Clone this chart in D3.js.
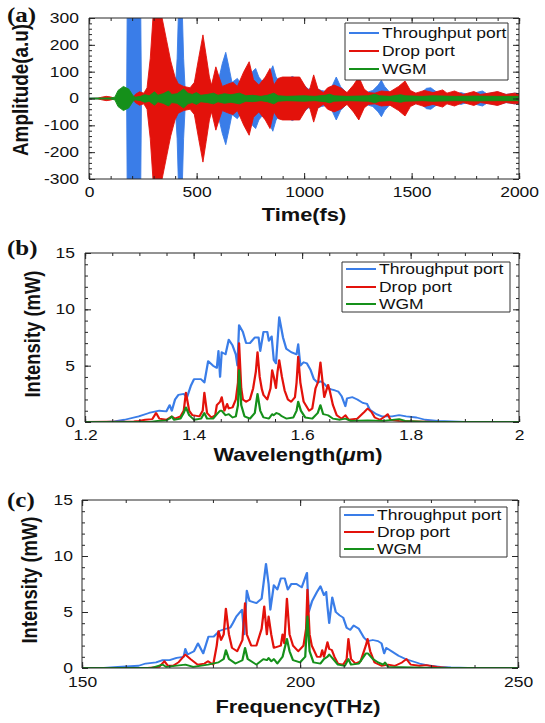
<!DOCTYPE html>
<html>
<head>
<meta charset="utf-8">
<script src="https://cdn.jsdelivr.net/npm/d3@7"></script>
<style>
body { margin: 0; background: #fff; }
svg text { font-family: "Liberation Sans", Arial, sans-serif; }
</style>
</head>
<body>
<svg id="fig" width="545" height="723"></svg>
<script>
// ---- data ----

const seriesNames = ['Throughput port', 'Drop port', 'WGM'];
const seriesColors = ['#3a7de8', '#e3120b', '#15901a'];

// (a) time domain: envelope amplitude of each oscillating signal, [t fs, amplitude]
const timeTicks = [0, 500, 1000, 1500, 2000];
const ampTicks = [-300, -200, -100, 0, 100, 200, 300];

const throughEnv = [[0,1],[170,2],[175,4],[178,380],[240,380],[244,10],[300,15],[400,15],[410,150],[418,380],[432,380],[440,150],[448,20],
  [480,30],[495,70],[505,92],[515,70],[525,40],[560,40],[600,60],[620,130],[636,172],[650,120],[665,60],[690,75],[710,50],[740,60],
  [760,100],[775,112],[790,80],[810,60],[840,95],[855,122],[870,80],[890,60],[920,70],[945,82],[980,70],[1000,50],[1020,35],[1050,40],
  [1080,30],[1110,25],[1130,45],[1150,80],[1170,45],[1200,20],[1230,30],[1250,30],[1280,20],[1320,30],[1345,50],[1360,68],[1375,45],
  [1400,22],[1440,20],[1480,25],[1510,20],[1540,18],[1570,38],[1590,40],[1610,28],[1650,16],[1700,15],[1730,22],[1760,15],[1800,22],
  [1830,28],[1850,18],[1900,24],[1940,15],[1980,20],[2000,18]];

const dropEnv = [[0,0],[40,1],[60,5],[80,8],[100,6],[115,2],[130,1],[205,2],[215,15],[235,25],[255,20],[270,40],[285,150],[300,330],
  [330,350],[340,300],[360,220],[380,140],[400,80],[415,55],[440,45],[470,40],[490,60],[510,150],[530,237],[545,160],[560,80],[570,50],
  [590,118],[605,80],[620,45],[650,55],[670,60],[690,45],[720,100],[745,137],[765,70],[790,50],[820,80],[842,112],[860,50],[880,75],
  [900,80],[980,80],[1010,40],[1025,30],[1045,88],[1065,35],[1090,22],[1110,40],[1140,50],[1170,40],[1200,22],[1230,50],[1255,80],
  [1280,35],[1300,22],[1330,20],[1360,28],[1400,25],[1440,45],[1470,65],[1495,30],[1520,20],[1560,30],[1600,22],[1645,32],[1665,20],
  [1700,28],[1740,15],[1790,26],[1820,15],[1860,20],[1900,26],[1940,15],[1980,20],[2000,18]];

const wgmEnv = [[0,1.5],[100,2],[120,5],[135,30],[160,45],[185,35],[205,10],[215,5],[240,8],[260,14],[280,10],[305,25],[320,12],
  [345,18],[370,28],[385,15],[410,18],[440,35],[460,20],[480,15],[500,22],[520,12],[550,15],[580,20],[600,12],[630,18],[660,14],
  [700,20],[730,10],[760,12],[800,8],[830,12],[860,20],[880,10],[920,8],[1000,10],[1050,8],[1100,12],[1120,16],[1140,10],[1200,8],
  [1300,10],[1330,16],[1350,10],[1400,8],[1450,14],[1470,10],[1550,8],[1600,10],[1700,8],[1800,9],[1900,8],[2000,8]];

// (b) spectrum vs wavelength, [um, mW]
const wlTicks = [1.2, 1.4, 1.6, 1.8, 2];
const intTicks = [0, 5, 10, 15];

const wlThrough = [[1.2,0],[1.24,0.02],[1.254,0.05],[1.273,0.2],[1.299,0.5],[1.318,0.8],[1.337,1.0],[1.35,0.95],[1.356,1.5],[1.36,1.0],
  [1.366,2.0],[1.372,2.4],[1.382,2.5],[1.388,2.2],[1.395,3.2],[1.401,3.8],[1.414,3.8],[1.42,3.5],[1.427,5.4],[1.436,5.0],[1.443,4.8],
  [1.446,6.3],[1.449,4.0],[1.452,6.2],[1.459,6.0],[1.465,7.3],[1.472,6.8],[1.478,6.0],[1.481,5.0],[1.484,8.6],[1.491,8.0],[1.497,7.0],
  [1.504,7.0],[1.513,7.5],[1.52,7.5],[1.523,6.3],[1.529,8.0],[1.536,8.0],[1.539,7.2],[1.544,7.6],[1.548,5.5],[1.552,5.2],[1.558,9.3],
  [1.565,7.5],[1.571,6.5],[1.58,6.2],[1.59,6.0],[1.593,6.9],[1.597,5.0],[1.603,5.3],[1.609,5.2],[1.616,4.6],[1.622,3.8],[1.629,3.5],
  [1.635,3.6],[1.641,3.4],[1.648,3.0],[1.654,2.9],[1.661,2.8],[1.667,2.7],[1.673,2.3],[1.68,1.4],[1.683,2.1],[1.693,2.2],[1.702,2.0],
  [1.712,1.7],[1.72,1.6],[1.725,1.1],[1.737,0.7],[1.747,0.5],[1.766,0.5],[1.779,0.6],[1.792,0.5],[1.811,0.4],[1.827,0.2],[1.85,0.1],
  [1.875,0.05],[1.9,0],[2.0,0]];

const wlDrop = [[1.2,0],[1.29,0.05],[1.299,0.1],[1.311,0.2],[1.324,0.25],[1.331,0.8],[1.337,0.3],[1.35,0.2],[1.36,0.5],[1.366,0.3],
  [1.376,0.5],[1.382,1.0],[1.386,2.6],[1.392,1.0],[1.398,0.6],[1.411,0.5],[1.417,1.0],[1.42,2.6],[1.425,0.8],[1.433,0.4],[1.44,0.6],
  [1.443,1.5],[1.449,1.8],[1.452,2.2],[1.457,1.0],[1.462,1.6],[1.465,1.2],[1.472,1.3],[1.478,2.0],[1.482,3.5],[1.484,7.0],[1.488,3.0],
  [1.491,2.0],[1.497,1.8],[1.504,2.0],[1.51,3.0],[1.515,4.5],[1.518,6.2],[1.522,4.0],[1.526,2.9],[1.529,2.4],[1.536,2.0],[1.542,3.0],
  [1.545,4.6],[1.548,4.0],[1.552,3.0],[1.555,4.5],[1.558,5.5],[1.563,4.0],[1.568,2.8],[1.574,2.0],[1.58,1.8],[1.587,2.2],[1.59,3.5],
  [1.593,5.8],[1.597,3.5],[1.603,1.8],[1.613,1.0],[1.619,1.2],[1.625,3.0],[1.63,3.6],[1.634,5.3],[1.638,3.5],[1.641,2.2],[1.648,3.3],
  [1.651,2.8],[1.657,1.5],[1.664,0.6],[1.673,0.3],[1.68,0.6],[1.686,0.2],[1.702,0.3],[1.715,0.9],[1.721,1.2],[1.728,0.9],[1.734,0.4],
  [1.744,0.2],[1.753,0.5],[1.758,0.7],[1.763,0.2],[1.779,0.1],[1.811,0.05],[1.85,0],[2.0,0]];

const wlWgm = [[1.2,0],[1.32,0.02],[1.334,0.1],[1.35,0.15],[1.356,0.3],[1.36,0.5],[1.364,0.2],[1.376,0.3],[1.382,0.8],[1.386,1.3],
  [1.392,0.6],[1.401,0.2],[1.414,0.3],[1.42,0.8],[1.425,0.3],[1.436,0.3],[1.445,0.8],[1.449,1.0],[1.452,1.0],[1.459,0.6],[1.465,0.7],
  [1.472,0.4],[1.478,0.5],[1.482,1.5],[1.484,4.6],[1.488,1.5],[1.494,0.5],[1.504,0.3],[1.513,0.8],[1.518,2.5],[1.523,1.0],[1.529,0.4],
  [1.539,0.3],[1.545,0.7],[1.548,0.6],[1.553,0.8],[1.558,0.7],[1.563,0.5],[1.571,0.3],[1.584,0.4],[1.59,1.0],[1.593,1.8],[1.598,1.0],
  [1.606,0.4],[1.619,0.3],[1.629,0.8],[1.634,1.5],[1.639,0.7],[1.648,0.6],[1.657,0.3],[1.67,0.2],[1.68,0.3],[1.69,0.1],[1.721,0.15],
  [1.75,0.1],[1.779,0.25],[1.79,0.1],[1.83,0],[2.0,0]];

// (c) spectrum vs frequency, [THz, mW]
const fqTicks = [150, 200, 250];

const fqThrough = [[150,0],[155,0.02],[158.2,0.1],[163,0.2],[164.6,0.4],[167,0.5],[168.5,0.7],[170.1,0.7],[171.7,0.9],[173.3,1.0],
  [173.7,1.7],[174.2,1.2],[175.7,1.5],[176.6,2.2],[177.8,1.3],[179,2.8],[180.2,2.8],[181.5,3.3],[182.9,3.5],[184,3.6],[184.6,4.0],
  [185.4,4.6],[186.7,5.2],[187.2,3.0],[187.8,6.9],[188.4,6.0],[190,5.8],[191.2,6.2],[192.2,9.3],[192.8,7.5],[193.2,5.2],[194,7.4],
  [194.8,7.0],[195.6,8.0],[196.5,8.0],[197.2,7.0],[198,7.5],[199.2,7.5],[200.4,7.2],[201.6,8.5],[202,5.0],[202.8,6.0],[203.9,6.8],
  [204.7,7.3],[205.5,6.5],[206,6.8],[206.3,5.5],[206.7,4.0],[207.4,6.3],[208.2,5.0],[209.1,4.7],[209.9,4.5],[210.7,3.6],[211.5,3.4],
  [212.3,3.8],[213.5,3.5],[214.7,2.7],[215.5,2.4],[216.7,2.5],[217.9,2.4],[218.7,2.2],[219.3,1.3],[219.8,1.8],[221,1.5],[222.6,1.1],
  [224.2,0.8],[225.8,0.6],[227.4,0.4],[229.8,0.2],[232.2,0.1],[234.6,0.05],[238.5,0],[250,0]];

const fqDrop = [[150,0],[165,0.02],[167.7,0.1],[168.9,0.6],[169.7,0.2],[170.9,0.2],[172.1,0.5],[173.7,1.2],[174.9,0.8],[176.5,0.3],
  [178.1,0.4],[178.9,0.6],[180.1,0.3],[180.9,2.0],[181.3,3.3],[181.9,2.5],[182.5,3.0],[183,5.3],[183.7,3.0],[184.4,1.8],[185.6,1.5],
  [186.8,2.5],[187.4,5.8],[187.8,3.0],[188.8,2.0],[190,2.0],[191.2,3.5],[191.8,5.5],[192.4,3.0],[192.8,4.6],[193.4,3.0],[194,1.8],
  [195.6,2.0],[196,3.0],[196.4,2.2],[197,6.2],[197.6,3.0],[198.4,2.0],[199.6,1.5],[200.8,2.0],[201.4,3.5],[201.7,7.0],[202.2,3.0],
  [202.7,2.0],[203.9,1.0],[204.7,1.0],[205.1,1.6],[205.5,1.0],[206.3,2.3],[206.7,1.7],[207.3,1.6],[207.9,1.0],[208.7,0.4],[209.9,0.3],
  [210.7,0.8],[211.1,2.6],[211.7,0.8],[212.7,0.4],[213.9,0.6],[215.1,2.0],[215.5,2.6],[216.1,1.5],[217.1,0.5],[218.7,0.2],[220.2,0.3],
  [221.8,0.2],[223.4,0.5],[224.4,0.8],[225.4,0.3],[227.4,0.2],[229,0.25],[231.4,0.1],[234,0],[250,0]];

const fqWgm = [[150,0],[166,0.02],[168.5,0.3],[169.3,0.1],[173.7,0.3],[175.5,0.1],[178.9,0.3],[181.3,0.5],[182.5,0.8],[183,1.6],
  [183.7,0.8],[185.2,0.4],[186.8,0.7],[187.4,1.8],[188,0.8],[190,0.3],[191.6,0.8],[192.4,0.7],[192.8,0.9],[193.4,0.6],[194,0.8],
  [194.8,0.4],[196,1.0],[197,2.6],[197.6,1.5],[198.4,0.7],[200,0.5],[201.2,1.0],[201.7,4.6],[202.2,1.5],[203.1,0.5],[204.7,0.4],
  [205.5,0.8],[206.3,1.0],[206.7,1.2],[207.4,0.9],[208.7,0.3],[210.3,0.2],[211.1,0.8],[211.7,0.3],[213.5,0.4],[215.1,1.3],[215.6,1.3],
  [216.7,0.8],[217.9,0.5],[219.1,0.3],[219.5,0.5],[220.2,0.1],[226,0.05],[230,0],[250,0]];

// ---- drawing ----

// the original figure is stretched sideways, so everything is drawn in a squeezed frame
const S = 1.25;
const sx = v => v / S;
const root = d3.select('#fig').append('g').attr('transform', `scale(${S},1)`);
const ink = '#262626';

function makePanel(cfg) {
    const g = root.append('g');
    const x = d3.scaleLinear().domain(cfg.xDomain).range([sx(cfg.left), sx(cfg.right)]);
    const y = d3.scaleLinear().domain(cfg.yDomain).range([cfg.bottom, cfg.top]);

    g.append('clipPath').attr('id', 'clip-' + cfg.id)
        .append('rect')
        .attr('x', x.range()[0]).attr('y', cfg.top)
        .attr('width', x.range()[1] - x.range()[0])
        .attr('height', cfg.bottom - cfg.top);

    const plot = g.append('g').attr('clip-path', `url(#clip-${cfg.id})`);
    return { cfg, g, x, y, plot };
}

function drawAxes(p) {
    const { cfg, g, x, y } = p;
    const fmt = d => String(d);
    const xMinor = d3.range(cfg.xDomain[0], cfg.xDomain[1] + 1e-9, cfg.xMinorStep);
    const yMinor = d3.range(cfg.yDomain[0], cfg.yDomain[1] + 1e-9, cfg.yMinorStep);

    const add = (axis, transform) => {
        const a = g.append('g').attr('transform', transform).attr('color', ink).call(axis);
        a.select('.domain').remove();
        a.selectAll('line').attr('vector-effect', 'non-scaling-stroke');
        return a;
    };

    const bottom = add(d3.axisBottom(x).tickValues(cfg.xTicks).tickFormat(fmt).tickSize(-6).tickPadding(cfg.xPad),
        `translate(0,${cfg.bottom})`);
    bottom.selectAll('text').attr('font-size', 14).attr('fill', '#111');
    add(d3.axisBottom(x).tickValues(xMinor).tickFormat('').tickSize(-3), `translate(0,${cfg.bottom})`);
    add(d3.axisTop(x).tickValues(cfg.xTicks).tickFormat('').tickSize(-6), `translate(0,${cfg.top})`);
    add(d3.axisTop(x).tickValues(xMinor).tickFormat('').tickSize(-3), `translate(0,${cfg.top})`);

    const left = add(d3.axisLeft(y).tickValues(cfg.yTicks).tickFormat(fmt).tickSize(-6 / S).tickPadding(sx(cfg.yPad)),
        `translate(${x.range()[0]},0)`);
    left.selectAll('text').attr('font-size', 14).attr('fill', '#111');
    add(d3.axisLeft(y).tickValues(yMinor).tickFormat('').tickSize(-3 / S), `translate(${x.range()[0]},0)`);
    add(d3.axisRight(y).tickValues(cfg.yTicks).tickFormat('').tickSize(-6 / S), `translate(${x.range()[1]},0)`);
    add(d3.axisRight(y).tickValues(yMinor).tickFormat('').tickSize(-3 / S), `translate(${x.range()[1]},0)`);

    // frame
    g.append('rect')
        .attr('x', x.range()[0]).attr('y', cfg.top)
        .attr('width', x.range()[1] - x.range()[0])
        .attr('height', cfg.bottom - cfg.top)
        .attr('fill', 'none').attr('stroke', ink).attr('stroke-width', 1)
        .attr('vector-effect', 'non-scaling-stroke');

    // axis titles
    const xl = g.append('text')
        .attr('x', sx(cfg.xLabelX)).attr('y', cfg.xLabelY)
        .attr('text-anchor', 'middle')
        .attr('font-size', 17.5).attr('font-weight', 'bold').attr('fill', '#111');
    cfg.xLabel.forEach(part => {
        const t = xl.append('tspan').text(part.text);
        if (part.italic) t.attr('font-style', 'italic');
    });

    g.append('text')
        .attr('transform', `translate(${sx(cfg.yLabelX)},${cfg.yLabelY}) rotate(-90)`)
        .attr('text-anchor', 'middle').attr('dy', '0.35em')
        .attr('font-size', 17).attr('font-weight', 'bold').attr('fill', '#111')
        .attr('textLength', cfg.yLabelLen).attr('lengthAdjust', 'spacingAndGlyphs')
        .text(cfg.yLabel);

    // panel tag, serif like the original
    g.append('text')
        .attr('x', sx(7)).attr('y', cfg.tagY)
        .style('font-family', '"Liberation Serif", "Times New Roman", serif')
        .attr('font-size', 20).attr('font-weight', 'bold').attr('fill', '#111')
        .text(cfg.tag);
}

function drawLegend(p, box) {
    const lg = p.g.append('g');
    lg.append('rect')
        .attr('x', sx(box.left)).attr('y', box.top)
        .attr('width', sx(box.right - box.left)).attr('height', box.bottom - box.top)
        .attr('fill', '#fff').attr('stroke', '#333').attr('stroke-width', 1)
        .attr('vector-effect', 'non-scaling-stroke');
    seriesNames.forEach((name, i) => {
        const yy = box.rows[i];
        lg.append('line')
            .attr('x1', sx(box.left + 4)).attr('x2', sx(box.left + 34))
            .attr('y1', yy).attr('y2', yy)
            .attr('stroke', seriesColors[i]).attr('stroke-width', 2);
        lg.append('text')
            .attr('x', sx(box.left + 37)).attr('y', yy).attr('dy', '0.35em')
            .attr('font-size', 14).attr('fill', '#111')
            .text(name);
    });
}

// (a) time domain
const pa = makePanel({ id: 'a', xDomain: [0, 2000], yDomain: [-300, 300], left: 89, right: 519, top: 18, bottom: 179 });
const envArea = d3.area()
    .x(d => pa.x(d[0]))
    .y0(d => pa.y(-d[1]))
    .y1(d => pa.y(d[1]));
[throughEnv, dropEnv, wgmEnv].forEach((env, i) => {
    pa.plot.append('path')
        .datum(env)
        .attr('d', envArea)
        .attr('fill', seriesColors[i])
        .attr('stroke', seriesColors[i]).attr('stroke-width', 0.8);
});
Object.assign(pa.cfg, {
    xTicks: timeTicks, yTicks: ampTicks, xMinorStep: 100, yMinorStep: 20, xPad: 8, yPad: 10,
    xLabel: [{ text: 'Time(fs)' }], xLabelX: 304, xLabelY: 221,
    yLabel: 'Amplitude(a.u)', yLabelX: 21, yLabelY: 90, yLabelLen: 132,
    tag: '(a)', tagY: 22 });
drawAxes(pa);
drawLegend(pa, { left: 345, right: 508, top: 23, bottom: 80, rows: [33, 51, 69] });

// spectra panels
function drawSpectrum(p, series) {
    const line = d3.line()
        .x(d => p.x(d[0]))
        .y(d => p.y(d[1]));
    series.forEach((s, i) => {
        p.plot.append('path')
            .datum(s)
            .attr('d', line)
            .attr('fill', 'none')
            .attr('stroke', seriesColors[i])
            .attr('stroke-width', 1.8)
            .attr('stroke-linejoin', 'round');
    });
}

// (b) wavelength
const pb = makePanel({ id: 'b', xDomain: [1.2, 2], yDomain: [0, 15], left: 85, right: 519, top: 253, bottom: 422 });
drawSpectrum(pb, [wlThrough, wlDrop, wlWgm]);
Object.assign(pb.cfg, {
    xTicks: wlTicks, yTicks: intTicks, xMinorStep: 0.05, yMinorStep: 1, xPad: 8, yPad: 10,
    xLabel: [{ text: 'Wavelength(' }, { text: 'μ', italic: true }, { text: 'm)' }], xLabelX: 298, xLabelY: 461,
    yLabel: 'Intensity (mW)', yLabelX: 33, yLabelY: 334, yLabelLen: 127,
    tag: '(b)', tagY: 255 });
drawAxes(pb);
drawLegend(pb, { left: 342, right: 510, top: 262, bottom: 312, rows: [269, 287, 304] });

// (c) frequency
const pc = makePanel({ id: 'c', xDomain: [150, 250], yDomain: [0, 15], left: 82, right: 518, top: 500, bottom: 668 });
drawSpectrum(pc, [fqThrough, fqDrop, fqWgm]);
Object.assign(pc.cfg, {
    xTicks: fqTicks, yTicks: intTicks, xMinorStep: 10, yMinorStep: 1, xPad: 9, yPad: 9,
    xLabel: [{ text: 'Frequency(THz)' }], xLabelX: 298, xLabelY: 713,
    yLabel: 'Intensity (mW)', yLabelX: 30, yLabelY: 580, yLabelLen: 127,
    tag: '(c)', tagY: 507 });
drawAxes(pc);
drawLegend(pc, { left: 340, right: 507, top: 507, bottom: 557, rows: [515, 532, 549] });
</script>
</body>
</html>
